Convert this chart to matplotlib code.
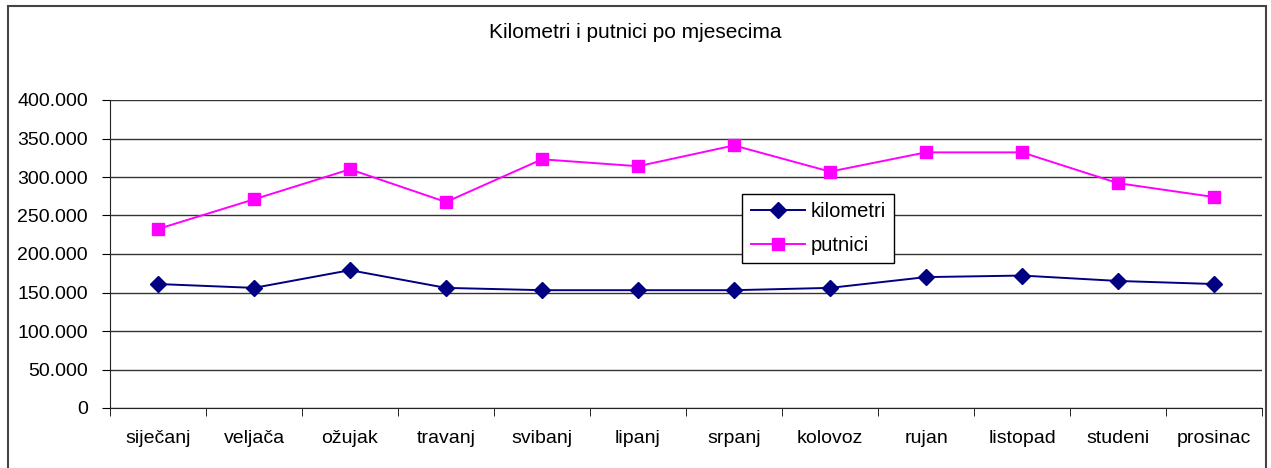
import matplotlib
matplotlib.use("Agg")
import matplotlib.pyplot as plt
from matplotlib.ticker import FuncFormatter, FixedLocator
from matplotlib.patches import Rectangle
import numpy as np

plt.rcParams['font.family'] = ['Liberation Sans', 'DejaVu Sans']

mjeseci = ['siječanj', 'veljača', 'ožujak', 'travanj', 'svibanj', 'lipanj',
           'srpanj', 'kolovoz', 'rujan', 'listopad', 'studeni', 'prosinac']
kilometri = [161000, 156000, 179000, 156000, 153000, 153000,
             153000, 156000, 170000, 172000, 165000, 161000]
putnici = [232500, 271000, 310000, 267500, 323000, 314000,
           341000, 307000, 332000, 332000, 292000, 274000]

fig = plt.figure(figsize=(12.71, 4.68), dpi=100)
ax = fig.add_axes([110/1271, 1-408/468, 1152/1271, 308/468])

x = np.arange(len(mjeseci))
ax.plot(x, kilometri, color='#000080', marker='D', markersize=8, lw=1.4, label='kilometri')
ax.plot(x, putnici, color='#FF00FF', marker='s', markersize=8, lw=1.4, label='putnici')

ax.set_xlim(-0.5, len(mjeseci)-0.5)
ax.set_ylim(0, 400000)
ax.set_yticks(np.arange(0, 400001, 50000))
ax.yaxis.set_major_formatter(FuncFormatter(lambda v, p: f"{v:,.0f}".replace(",", ".")))
ax.grid(axis='y', color='#333333', lw=1)
ax.set_axisbelow(True)

ax.set_xticks(x)
ax.set_xticklabels(mjeseci)
ax.xaxis.set_minor_locator(FixedLocator(np.arange(-0.5, len(mjeseci), 1)))
ax.tick_params(axis='x', which='major', length=0, pad=16, labelsize=14)
ax.tick_params(axis='x', which='minor', length=6, direction='out')
ax.tick_params(axis='y', length=6, direction='out', labelsize=14, pad=10)

for s in ['top', 'right']:
    ax.spines[s].set_visible(False)
ax.spines['left'].set_color('#222222')
ax.spines['bottom'].set_color('#222222')

leg = ax.legend(loc='upper left', bbox_to_anchor=(0.549, 0.695), fontsize=14.5,
                fancybox=False, framealpha=1, edgecolor='black', borderaxespad=0,
                handlelength=2.7, labelspacing=0.75, handletextpad=0.3, borderpad=0.4)
leg.get_frame().set_linewidth(1)

fig.text(0.5, 1-33/468, 'Kilometri i putnici po mjesecima', ha='center', va='center', fontsize=15)

fig.patches.append(Rectangle((8/1271, -0.1), 1258/1271, 1-6/468+0.1, transform=fig.transFigure,
                             fill=False, edgecolor='#444444', lw=1.5))

fig.savefig('out.png', dpi=100)
